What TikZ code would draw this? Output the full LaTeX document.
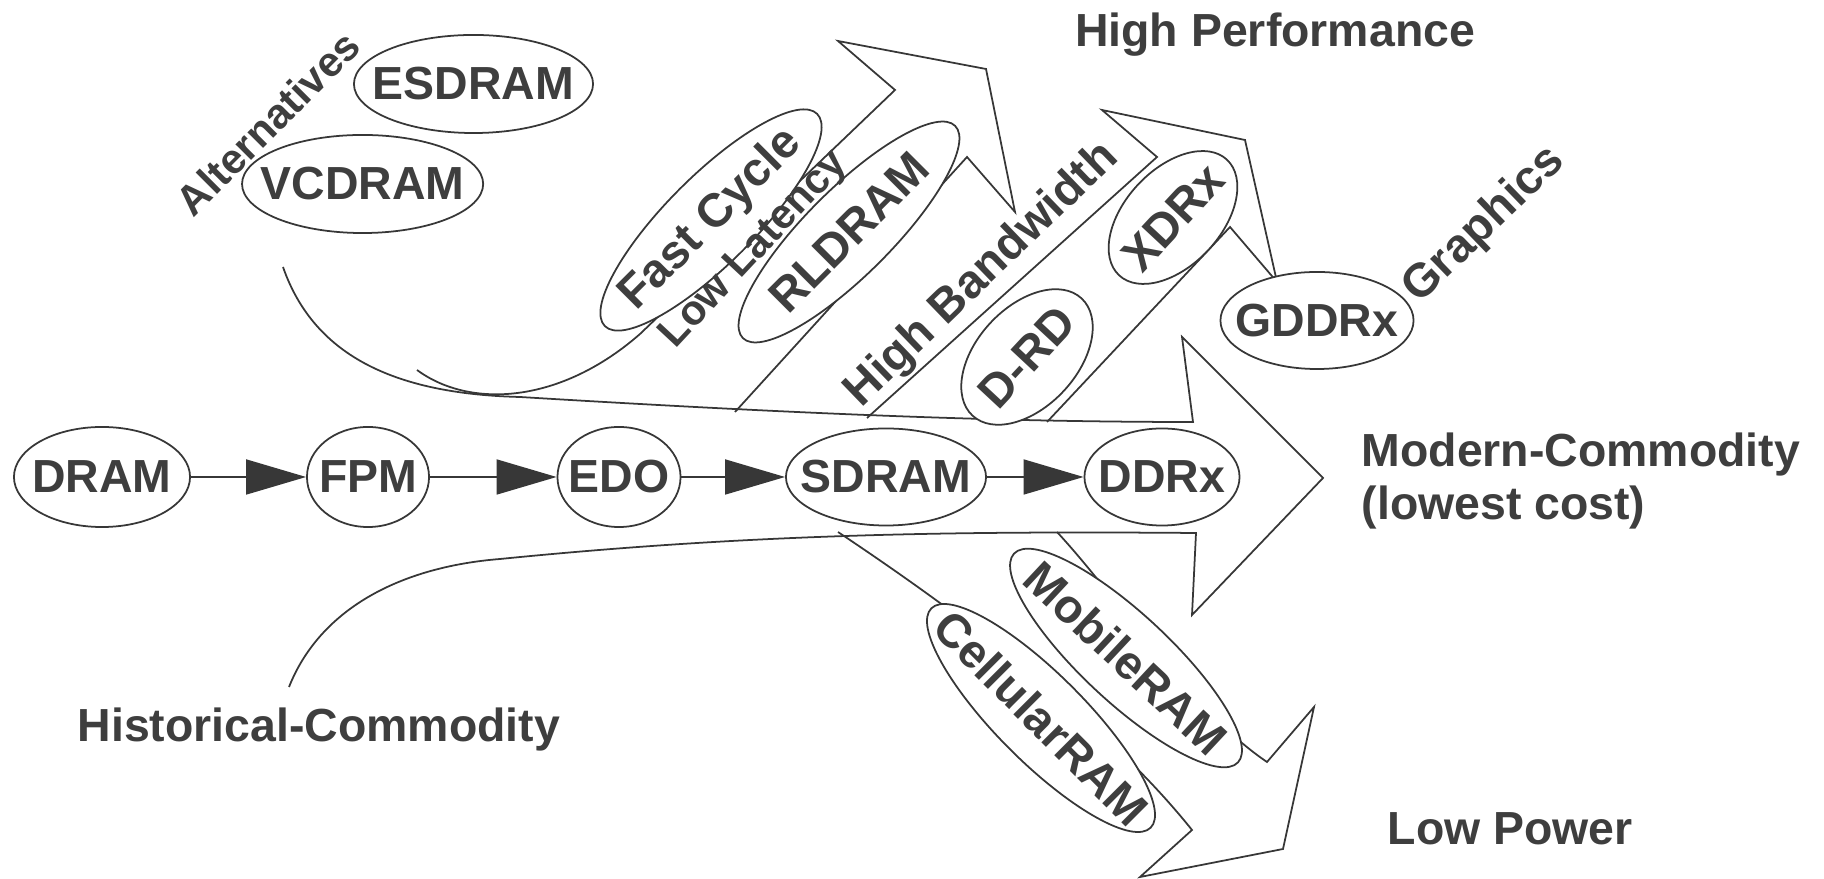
\documentclass[tikz,border=0pt]{standalone}
\usepackage{fontspec}
\setmainfont{Liberation Sans}
\usetikzlibrary{shapes.geometric,arrows.meta}
\definecolor{ink}{RGB}{55,55,55}
\definecolor{txt}{RGB}{62,62,62}
\newcommand\zb[1]{\makebox[0pt]{#1}}
\newcommand\fA{\bfseries\fontsize{13.2}{15}\selectfont}
\newcommand\fB{\bfseries\fontsize{13.4}{15}\selectfont}
\newcommand\fC{\bfseries\fontsize{11.9}{13}\selectfont}
\begin{document}
\begin{tikzpicture}[x=0.01cm,y=0.01cm,
  ln/.style={draw=ink, line width=0.5pt, line join=miter},
  ell/.style={ellipse, draw=ink, fill=white, line width=0.5pt, inner sep=0pt, font=\fA, text=txt},
  lbl/.style={inner sep=0pt, font=\fA, text=txt},
  flow/.style={draw=ink, line width=0.5pt, -{Triangle[length=0.6cm,width=0.35cm]}}]
\useasboundingbox (0,0) rectangle (1824,879);

% main (modern-commodity) arrow with alternatives and historical curves
\draw[ln] (283,612) .. controls (315,520) and (400,485) .. (520,482)
  .. controls (800,465) and (1000,457) .. (1193,457)
  -- (1182,542) -- (1323,401) -- (1192,264) -- (1196,346)
  .. controls (950,348) and (750,345) .. (500,320)
  .. controls (400,312) and (320,270) .. (289,192);

% high performance arrow (fast cycle / low latency)
\draw[ln] (417,509) .. controls (470,470) and (560,475) .. (640,545)
  -- (895,789) -- (838,838) -- (986,810) -- (1015,667) -- (967,722) -- (735,467);

% high bandwidth / graphics arrow
\draw[ln] (867,461) -- (1157,722) -- (1102,769) -- (1245,739) -- (1277,597)
  -- (1230,652) -- (1047,457);

% low power arrow
\draw[ln] (838,347) .. controls (1000,239) and (1120,139) .. (1192,49)
  -- (1140,2) -- (1283,30) -- (1314,172) -- (1267,117)
  .. controls (1190,169) and (1120,279) .. (1057,347);

% ellipses
\node[ell, minimum width=1.76cm, minimum height=1.0cm] (dram) at (102,402) {\zb{DRAM}};
\node[ell, minimum width=1.22cm, minimum height=1.0cm] (fpm) at (368,402) {\zb{FPM}};
\node[ell, minimum width=1.23cm, minimum height=1.0cm] (edo) at (619,402) {\zb{EDO}};
\node[ell, minimum width=2.0cm, minimum height=0.97cm] (sdram) at (886,402) {\zb{SDRAM}};
\node[ell, minimum width=1.55cm, minimum height=0.97cm] (ddrx) at (1162,402) {\zb{DDRx}};
\node[ell, minimum width=2.39cm, minimum height=0.98cm] (esdram) at (473.5,795) {\zb{ESDRAM}};
\node[ell, minimum width=2.41cm, minimum height=0.98cm] (vcdram) at (362.6,695) {\zb{VCDRAM}};
\node[ell, minimum width=1.93cm, minimum height=0.97cm] (gddrx) at (1317,558.5) {\zb{GDDRx}};
\node[ell, font=\fB, rotate=45, minimum width=3.0cm, minimum height=0.88cm] (fast) at (711,659) {\zb{Fast Cycle}};
\node[ell, font=\fB, rotate=45, minimum width=3.0cm, minimum height=0.86cm] (rldram) at (849,647) {\zb{RLDRAM}};
\node[ell, font=\fB, rotate=47, minimum width=1.6cm, minimum height=1.0cm] (drd) at (1027,522) {\zb{D-RD}};
\node[ell, font=\fB, rotate=47, minimum width=1.58cm, minimum height=0.96cm] (xdrx) at (1173,661.5) {\zb{XDRx}};
\node[ell, font=\fB, rotate=-45, minimum width=3.1cm, minimum height=0.88cm] (cell) at (1041,161) {\zb{CellularRAM}};
\node[ell, font=\fB, rotate=-43, minimum width=3.06cm, minimum height=0.88cm] (mobile) at (1126,221) {\zb{MobileRAM}};

% evolution arrows
\draw[flow] (dram) -- (fpm);
\draw[flow] (fpm) -- (edo);
\draw[flow] (edo) -- (sdram);
\draw[flow] (sdram) -- (ddrx);

% labels
\node[lbl, font=\fC, rotate=45] (alt) at (268,756) {Alternatives};
\node[lbl, anchor=base west] (hp) at (1074.5,832.3) {High Performance};
\node[lbl, font=\fB, rotate=44] (hb) at (982.5,604) {High Bandwidth};
\node[lbl, font=\fC, rotate=47] (ll) at (755,629) {Low Latency};
\node[lbl, font=\fB, rotate=44] (gr) at (1484.5,654) {Graphics};
\node[lbl, anchor=base west] (mc) at (1361,412.3) {Modern-Commodity};
\node[lbl, anchor=base west] (lc) at (1361,359) {(lowest cost)};
\node[lbl, anchor=base west] (lp) at (1387,34) {Low Power};
\node[lbl, anchor=base west] (hc) at (77,137.3) {Historical-Commodity};
\end{tikzpicture}
\end{document}
